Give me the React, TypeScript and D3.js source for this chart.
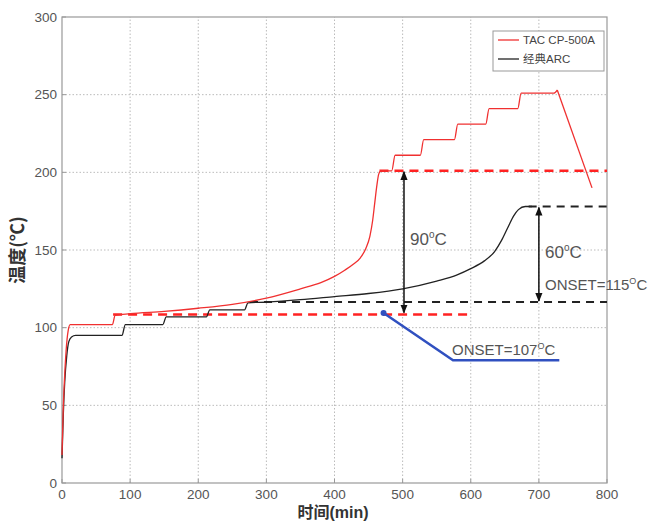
import React from "react";
import * as d3 from "d3";

// TAC CP-500A curve (time min, temperature °C)
const redCurve: [number, number][] = [
  [0, 18], [1, 35], [2, 50], [4, 70], [6, 85], [9, 98], [12, 102], [74, 102],
  [78, 108], [100, 109], [150, 110.5], [200, 112.5], [250, 115], [300, 119],
  [350, 125], [380, 129], [400, 133], [415, 137], [428, 141], [438, 145],
  [446, 151], [452, 159], [456, 169], [459, 180], [462, 191], [465, 199],
  [468, 201], [484, 201], [489, 211], [526, 211], [531, 221], [576, 221],
  [581, 231], [622, 231], [627, 241], [669, 241], [674, 251], [722, 251],
  [727, 253],
];
// cooling after the last hold
const redDrop: [number, number][] = [[727, 253], [778, 190]];

// 经典ARC curve
const blackCurve: [number, number][] = [
  [0, 16], [2, 45], [4, 65], [7, 82], [10, 91], [14, 94], [20, 95], [88, 95],
  [93, 102], [148, 102], [153, 107], [212, 107], [217, 111.5], [268, 111.5],
  [273, 116], [300, 116.5], [350, 118], [400, 120], [450, 122], [500, 125],
  [550, 130], [580, 134], [600, 138], [620, 143], [635, 149], [645, 156],
  [655, 165], [663, 172], [670, 176], [680, 178], [690, 178],
];

// dashed reference levels: [x0, x1, y]
const redDashes: [number, number, number][] = [[75, 603, 108.5], [466, 800, 201]];
const blackDashes: [number, number, number][] = [[276, 800, 116.5], [685, 800, 178]];

// double arrows: [x, yTop, yBottom]
const arrows: [number, number, number][] = [[502, 201, 109], [700, 178, 116.5]];

const blueLeader: [number, number][] = [[472, 109.5], [574, 79], [730, 79]];

const xTicks = [0, 100, 200, 300, 400, 500, 600, 700, 800];
const yTicks = [0, 50, 100, 150, 200, 250, 300];

const W = 653;
const H = 522;

export default function App() {
  const x = d3.scaleLinear().domain([0, 800]).range([62, 607]);
  const y = d3.scaleLinear().domain([0, 300]).range([483, 17]);
  const line = d3
    .line<[number, number]>()
    .x((d) => x(d[0]))
    .y((d) => y(d[1]))
    .curve(d3.curveMonotoneX);
  const straight = d3
    .line<[number, number]>()
    .x((d) => x(d[0]))
    .y((d) => y(d[1]));

  const tickFont = "'Liberation Sans', Arial, sans-serif";
  const noteStyle = { fontFamily: tickFont, fill: "#555" };

  return (
    <div style={{ position: "absolute", left: 0, top: 0 }}>
      <svg width={W} height={H} style={{ display: "block", background: "#fff" }}>
        <defs>
          <marker id="ah" viewBox="0 0 10 10" refX="9" refY="5" markerWidth="6" markerHeight="6" orient="auto-start-reverse">
            <path d="M0,1 L10,5 L0,9 z" fill="#111" />
          </marker>
        </defs>

        {/* grid */}
        {xTicks.slice(1, -1).map((t) => (
          <line key={"gx" + t} x1={x(t)} x2={x(t)} y1={y(0)} y2={y(300)} stroke="#bbb" strokeDasharray="1.5,2" />
        ))}
        {yTicks.slice(1, -1).map((t) => (
          <line key={"gy" + t} x1={x(0)} x2={x(800)} y1={y(t)} y2={y(t)} stroke="#bbb" strokeDasharray="1.5,2" />
        ))}

        {/* frame */}
        <rect x={x(0)} y={y(300)} width={x(800) - x(0)} height={y(0) - y(300)} fill="none" stroke="#999" strokeWidth={1.2} />

        {/* ticks */}
        {xTicks.map((t) => (
          <g key={"tx" + t}>
            <line x1={x(t)} x2={x(t)} y1={y(0)} y2={y(0) - 4} stroke="#999" />
            <text x={x(t)} y={499} textAnchor="middle" fontSize={13.5} fontFamily={tickFont} fill="#555">{t}</text>
          </g>
        ))}
        {yTicks.map((t) => (
          <g key={"ty" + t}>
            <line x1={x(0)} x2={x(0) + 4} y1={y(t)} y2={y(t)} stroke="#999" />
            <text x={57} y={y(t) + 4.5} textAnchor="end" fontSize={13.5} fontFamily={tickFont} fill="#555">{t}</text>
          </g>
        ))}

        {/* axis labels */}
        <text transform="translate(24,250) rotate(-90)" textAnchor="middle" fontSize={18} fontWeight="bold"
          fontFamily="'Noto Sans CJK SC', sans-serif" fill="#333">温度(℃)</text>
        <text x={333} y={518} textAnchor="middle" fontSize={16} fontWeight="bold"
          fontFamily="'Liberation Sans', 'Noto Sans CJK SC', sans-serif" fill="#333">时间(min)</text>

        {/* dashed levels */}
        {redDashes.map(([a, b, v], i) => (
          <line key={"rd" + i} x1={x(a)} x2={x(b)} y1={y(v)} y2={y(v)} stroke="#f22" strokeWidth={2.6} strokeDasharray="9,6" />
        ))}
        {blackDashes.map(([a, b, v], i) => (
          <line key={"bd" + i} x1={x(a)} x2={x(b)} y1={y(v)} y2={y(v)} stroke="#222" strokeWidth={2} strokeDasharray="8,6" />
        ))}

        {/* curves */}
        <path d={line(blackCurve) ?? ""} fill="none" stroke="#222" strokeWidth={1.3} />
        <path d={line(redCurve) ?? ""} fill="none" stroke="#f03030" strokeWidth={1.3} />
        <path d={straight(redDrop) ?? ""} fill="none" stroke="#f03030" strokeWidth={1.3} />

        {/* arrows */}
        {arrows.map(([ax, t, b], i) => (
          <line key={"ar" + i} x1={x(ax)} x2={x(ax)} y1={y(t) + 1} y2={y(b) - 1} stroke="#111" strokeWidth={1.5}
            markerStart="url(#ah)" markerEnd="url(#ah)" />
        ))}

        {/* blue leader */}
        <path d={straight(blueLeader) ?? ""} fill="none" stroke="#3050c0" strokeWidth={2.5} />
        <circle cx={x(blueLeader[0][0])} cy={y(blueLeader[0][1])} r={3} fill="#3050c0" />

        {/* annotations */}
        <text x={410} y={245} fontSize={17} style={noteStyle}>
          90<tspan fontSize={10} dy={-7}>o</tspan><tspan dy={7}>C</tspan>
        </text>
        <text x={545} y={258} fontSize={17} style={noteStyle}>
          60<tspan fontSize={10} dy={-7}>o</tspan><tspan dy={7}>C</tspan>
        </text>
        <text x={545} y={290} fontSize={15} style={noteStyle}>
          ONSET=115<tspan fontSize={9} dy={-6}>O</tspan><tspan dy={6}>C</tspan>
        </text>
        <text x={452} y={355} fontSize={15} style={noteStyle}>
          ONSET=107<tspan fontSize={9} dy={-6}>O</tspan><tspan dy={6}>C</tspan>
        </text>

        {/* legend */}
        <rect x={493} y={31} width={111} height={40} fill="#fff" stroke="#999" />
        <line x1={498} x2={519} y1={40} y2={40} stroke="#f03030" strokeWidth={1.3} />
        <text x={523} y={44} fontSize={11.5} fontFamily={tickFont} fill="#444">TAC CP-500A</text>
        <line x1={498} x2={519} y1={59} y2={59} stroke="#222" strokeWidth={1.3} />
        <text x={523} y={63} fontSize={11.5} fontFamily="'Liberation Sans', 'Noto Sans CJK SC', sans-serif" fill="#444">经典ARC</text>
      </svg>
    </div>
  );
}
